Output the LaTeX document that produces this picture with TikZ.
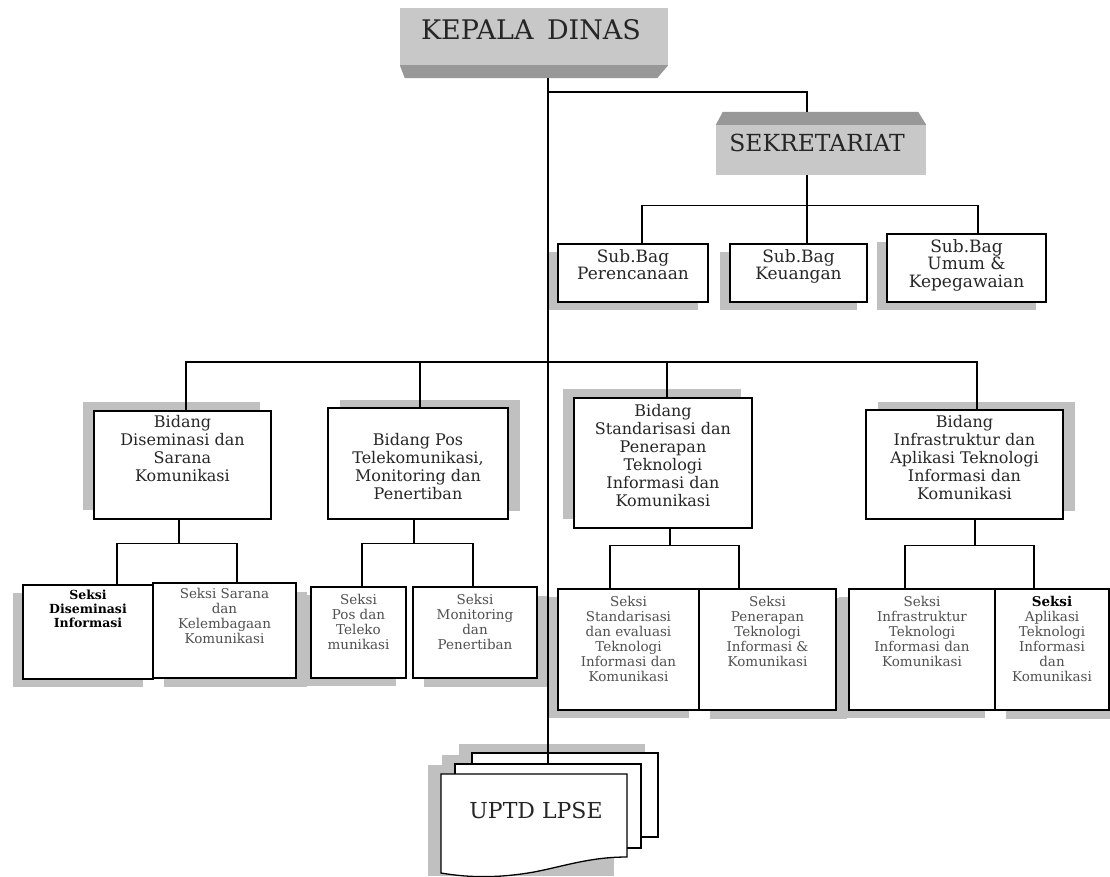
\documentclass[tikz,border=0pt]{standalone}
\usepackage{fontspec}
\setmainfont{DejaVu Serif}
\usetikzlibrary{shadows,calc}

\definecolor{boxgrey}{RGB}{200,200,200}
\definecolor{bevelgrey}{RGB}{152,152,152}
\definecolor{shd}{RGB}{192,192,192}
\definecolor{seksitext}{RGB}{80,80,80}

\tikzset{
  headbox/.style={fill=boxgrey, inner sep=0pt},
  unit/.style={draw=black, line width=1.5pt, fill=white, inner sep=0pt},
  sheet/.style={draw=black, line width=1.3pt, fill=white, inner sep=0pt},
  link/.style={line width=1.4pt},
  sh ul/.style={drop shadow={shadow xshift=-11pt, shadow yshift=9pt, fill=shd, opacity=1}},
  sh ur/.style={drop shadow={shadow xshift=12pt, shadow yshift=8pt, fill=shd, opacity=1}},
  sh dl/.style={drop shadow={shadow xshift=-10pt, shadow yshift=-8pt, fill=shd, opacity=1}},
  sh dr/.style={drop shadow={shadow xshift=11pt, shadow yshift=-9pt, fill=shd, opacity=1}},
  titletxt/.style={inner sep=0pt, text=black!85, font=\fontsize{27}{30}\selectfont},
  subtxt/.style={anchor=north, align=center, inner sep=0pt, text=black!85, font=\fontsize{17}{17.5}\selectfont},
  bidtxt/.style={anchor=north, align=center, inner sep=0pt, text=black!85, font=\fontsize{16}{18}\selectfont},
  seksitxt/.style={anchor=north, align=center, inner sep=0pt, text=seksitext, font=\fontsize{13.5}{15}\selectfont},
}

\begin{document}
\begin{tikzpicture}[x=1pt, y=-1pt]
  \useasboundingbox (0,0) rectangle (1110,876);

  % Kepala Dinas
  \node[headbox, minimum width=268pt, minimum height=57pt] (kd) at (534,36.5) {};
  \fill[bevelgrey] (kd.south west) -- (kd.south east) -- ++(-11,13) -- ($(kd.south west)+(5,13)$) -- cycle;
  \node[titletxt] (kdt) at (531,30) {KEPALA\hspace{0.5em}DINAS};
  \coordinate (kdfoot) at (548,78);
  \coordinate (kdfork) at (548,92);

  % Sekretariat
  \node[headbox, minimum width=210pt, minimum height=50pt] (sek) at (821,150) {};
  \fill[bevelgrey] (sek.north west) -- (sek.north east) -- ++(-8,-13) -- ($(sek.north west)+(7,-13)$) -- cycle;
  \node[titletxt, font=\fontsize{23.5}{26}\selectfont] (sekt) at (817,143) {SEKRETARIAT};
  \coordinate (sektop) at ($(sek.north)+(-14,-13)$);

  % Sub bagian
  \node[unit, sh dl, minimum width=150pt, minimum height=58pt] (sb1) at (633,273) {};
  \node[subtxt] (sb1t) at ([yshift=-6pt]sb1.north) {Sub.Bag\\Perencanaan};
  \node[unit, sh dl, minimum width=137pt, minimum height=58pt] (sb2) at (798.5,273) {};
  \node[subtxt] (sb2t) at ([yshift=-6pt]sb2.north) {Sub.Bag\\Keuangan};
  \node[unit, sh dl, minimum width=159pt, minimum height=68pt] (sb3) at (966.5,268) {};
  \node[subtxt] (sb3t) at ([yshift=-6pt]sb3.north) {Sub.Bag\\Umum \&\\Kepegawaian};

  % Bidang
  \node[unit, sh ul, minimum width=177pt, minimum height=108pt] (b1) at (182.5,465) {};
  \node[bidtxt] (b1t) at ([yshift=-5pt]b1.north) {Bidang\\Diseminasi dan\\Sarana\\Komunikasi};
  \node[unit, sh ur, minimum width=180pt, minimum height=111pt] (b2) at (418,463.5) {};
  \node[bidtxt] (b2t) at ([yshift=-26pt]b2.north) {Bidang Pos\\Telekomunikasi,\\Monitoring dan\\Penertiban};
  \node[unit, sh ul, minimum width=178pt, minimum height=130pt] (b3) at (663,463) {};
  \node[bidtxt] (b3t) at ([yshift=-7pt]b3.north) {Bidang\\Standarisasi dan\\Penerapan\\Teknologi\\Informasi dan\\Komunikasi};
  \node[unit, sh ur, minimum width=197pt, minimum height=109pt] (b4) at (964.5,464.5) {};
  \node[bidtxt] (b4t) at ([yshift=-6pt]b4.north) {Bidang\\Infrastruktur dan\\Aplikasi Teknologi\\Informasi dan\\Komunikasi};

  % Seksi
  \node[unit, sh dl, minimum width=130pt, minimum height=94pt] (s1) at (88,632) {};
  \node[seksitxt, text=black, font=\bfseries\fontsize{12.5}{14}\selectfont] (s1t) at ([yshift=-6pt]s1.north) {Seksi\\Diseminasi\\Informasi};
  \node[unit, sh dr, minimum width=143pt, minimum height=95pt] (s2) at (224.5,630.5) {};
  \node[seksitxt] (s2t) at ([yshift=-6pt]s2.north) {Seksi Sarana\\dan\\Kelembagaan\\Komunikasi};
  \node[unit, sh dl, minimum width=95pt, minimum height=91pt] (s3) at (358.5,632.5) {};
  \node[seksitxt] (s3t) at ([yshift=-8pt]s3.north) {Seksi\\Pos dan\\Teleko\\munikasi};
  \node[unit, sh dr, minimum width=124pt, minimum height=91pt] (s4) at (475,632.5) {};
  \node[seksitxt] (s4t) at ([yshift=-8pt]s4.north) {Seksi\\Monitoring\\dan\\Penertiban};
  \node[unit, sh dl, minimum width=141pt, minimum height=121pt] (s5) at (628.5,649.5) {};
  \node[seksitxt] (s5t) at ([yshift=-8pt]s5.north) {Seksi\\Standarisasi\\dan evaluasi\\Teknologi\\Informasi dan\\Komunikasi};
  \node[unit, sh dr, minimum width=137pt, minimum height=121pt] (s6) at (767.5,649.5) {};
  \node[seksitxt] (s6t) at ([yshift=-8pt]s6.north) {Seksi\\Penerapan\\Teknologi\\Informasi \&\\Komunikasi};
  \node[unit, sh dl, minimum width=146pt, minimum height=121pt] (s7) at (922,649.5) {};
  \node[seksitxt] (s7t) at ([yshift=-8pt]s7.north) {Seksi\\Infrastruktur\\Teknologi\\Informasi dan\\Komunikasi};
  \node[unit, sh dr, minimum width=114pt, minimum height=121pt] (s8) at (1052,649.5) {};
  \node[seksitxt] (s8t) at ([yshift=-8pt]s8.north) {\textbf{\color{black}Seksi}\\Aplikasi\\Teknologi\\Informasi\\dan\\Komunikasi};

  % UPTD
  \fill[shd] (459,744) rectangle (645,828);
  \fill[shd] (442,755) rectangle (628,839);
  \fill[shd] (428,765) rectangle (614,876);
  \node[sheet, minimum width=186pt, minimum height=84pt] (up3) at (565,795) {};
  \node[sheet, minimum width=186pt, minimum height=84pt] (up2) at (548,806) {};
  \draw[sheet] (441,774) -- (627,774) -- (627,857) .. controls (590,857) and (565,866) .. (534,872)
    .. controls (500,878) and (470,878) .. (441,873) -- cycle;
  \node[titletxt, font=\fontsize{22}{25}\selectfont] (uptd) at (536,810) {UPTD LPSE};

  % Garis
  \draw[link] (kdfoot) -- (up2.north);
  \draw[link] (kdfork) -| (sektop);
  \draw[link] ([xshift=-14pt]sek.south) -- ++(0,30) coordinate (sbfork);
  \draw[link] ([xshift=9pt]sb1.north) |- (sbfork) -| ([xshift=11.5pt]sb3.north);
  \draw[link] (sbfork) -- ([xshift=8.5pt]sb2.north);

  \coordinate (bdfork) at (548,362);
  \draw[link] ([xshift=3.5pt]b1.north) |- (bdfork) -| ([xshift=2pt]b2.north);
  \draw[link] (bdfork) -| ([xshift=4pt]b3.north);
  \draw[link] (bdfork) -| ([xshift=12.5pt]b4.north);

  \draw[link] ([xshift=-3.5pt]b1.south) -- ++(0,24) coordinate (g1);
  \draw[link] ([xshift=29pt]s1.north) |- (g1) -| ([xshift=12.5pt]s2.north);
  \draw[link] ([xshift=-4pt]b2.south) -- ++(0,24) coordinate (g2);
  \draw[link] ([xshift=3.5pt]s3.north) |- (g2) -| ([xshift=-2pt]s4.north);
  \draw[link] ([xshift=7pt]b3.south) -- ++(0,17) coordinate (g3);
  \draw[link] ([xshift=-18.5pt]s5.north) |- (g3) -| ([xshift=-28.5pt]s6.north);
  \draw[link] ([xshift=10.5pt]b4.south) -- ++(0,26) coordinate (g4);
  \draw[link] ([xshift=-17pt]s7.north) |- (g4) -| ([xshift=-18pt]s8.north);
\end{tikzpicture}
\end{document}
